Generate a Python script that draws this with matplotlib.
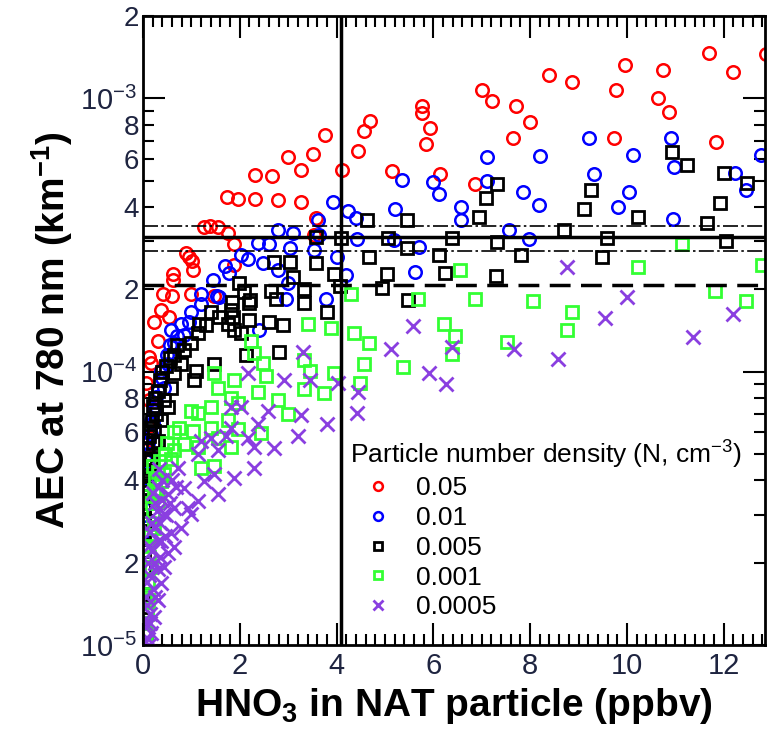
import numpy as np
import matplotlib
matplotlib.use('Agg')
import matplotlib.pyplot as plt
from matplotlib.ticker import FixedLocator, FuncFormatter

plt.rcParams['font.family'] = ['Liberation Sans', 'DejaVu Sans']
plt.rcParams['mathtext.fontset'] = 'custom'
plt.rcParams['mathtext.rm'] = 'Liberation Sans'
plt.rcParams['mathtext.bf'] = 'Liberation Sans:bold'

# =============================================================================
# data (x: ppbv, y: AEC in 1e-4 km^-1)
# =============================================================================

x_005 = [5.77, 5.77, 4.70, 4.56, 5.94, 5.84, 3.77, 4.45, 2.99, 3.51, 3.26, 4.12, 5.15, 6.14,
         2.31, 2.66, 1.73, 1.96, 2.31, 2.78, 3.26, 3.57, 1.26, 1.38, 1.55, 1.75, 1.88, 3.53,
         0.89, 0.95, 1.01, 1.03, 1.88, 0.62, 0.62, 0.41, 0.60, 0.99, 0.37, 0.54, 0.23, 1.46,
         0.31, 0.12, 0.16, 0.06, 0.12, 0.10, 0.02, 0.02,
         11.69, 12.87, 9.96, 10.74, 12.19, 8.39, 8.87, 9.77, 7.01, 7.22, 10.64, 10.87, 7.71,
         8.00, 7.65, 9.73, 11.84, 6.87]
y_005 = [9.36, 8.83, 8.25, 7.58, 7.78, 6.80, 7.33, 6.41, 6.09, 6.25, 5.46, 5.46, 5.41, 5.27,
         5.23, 5.19, 4.34, 4.27, 4.27, 4.24, 4.17, 3.64, 3.37, 3.40, 3.37, 3.23, 2.92, 3.16,
         2.71, 2.62, 2.55, 2.35, 2.45, 2.27, 2.16, 1.93, 1.90, 1.93, 1.68, 1.58, 1.52, 1.90,
         1.30, 1.13, 1.08, 0.913, 0.787, 0.635, 0.546, 0.515,
         14.7, 14.5, 13.3, 12.7, 12.5, 12.2, 11.5, 10.7, 10.7, 9.77, 10.0, 8.90, 9.36,
         8.18, 7.15, 7.15, 6.91, 4.85]

x_001 = [3.92, 4.23, 4.41, 5.20, 5.36, 6.00, 6.12, 3.61, 2.78, 3.09, 3.63, 4.43, 5.18, 2.37,
         2.60, 3.03, 3.53, 2.02, 2.16, 2.47, 2.78, 4.00, 1.69, 1.77, 1.44, 1.53, 1.57, 2.99,
         4.19, 5.63, 5.71, 1.20, 1.20, 0.99, 0.78, 0.95, 2.95, 3.79, 2.39,
         9.22, 10.91, 10.97, 7.11, 7.11, 8.21, 10.12, 12.78, 9.32, 12.23, 12.47, 7.86, 10.04,
         6.58, 6.58, 8.19, 9.81, 10.95, 7.57, 7.98,
         0.64, 0.52, 0.43, 0.23, 0.16, 0.12, 0.10, 0.06, 0.02, 0.85, 0.58, 0.37, 0.27, 0.16,
         0.06, 0.02,
         0.05, 0.08, 0.10, 0.20, 0.25, 0.30, 0.40, 0.50, 0.55, 0.70, 0.03, 0.01]
y_001 = [4.17, 3.86, 3.64, 3.93, 5.02, 4.93, 4.46, 3.58, 3.29, 3.23, 3.16, 3.05, 3.02, 2.95,
         2.92, 2.83, 2.78, 2.67, 2.58, 2.49, 2.35, 2.62, 2.43, 2.29, 2.16, 1.90, 1.87, 2.12,
         2.25, 2.31, 2.85, 1.93, 1.77, 1.65, 1.50, 1.52, 1.85, 1.85, 1.42,
         7.15, 7.15, 5.60, 6.09, 4.98, 6.14, 6.19, 6.19, 5.27, 5.32, 4.61, 4.53, 4.53,
         4.00, 3.58, 4.07, 4.00, 3.61, 3.29, 3.05,
         1.27, 1.07, 0.875, 0.721, 0.594, 0.502, 0.410, 0.376, 0.318, 1.36, 1.42, 1.01, 0.81, 0.66,
         0.47, 0.26,
         0.42, 0.52, 0.55, 0.65, 0.75, 0.85, 0.95, 1.15, 1.25, 1.35, 0.35, 0.30]

x_0005 = [4.62, 5.46, 3.57, 4.10, 5.07, 5.46, 4.66, 6.12, 2.70, 3.03, 3.57, 5.05, 6.25, 3.94,
          3.09, 1.98, 2.08, 2.21, 2.64, 2.74, 3.32, 3.32, 4.08, 4.93, 5.48, 1.84, 3.81, 1.40,
          1.57, 1.86, 2.19, 2.60, 2.89, 1.15, 1.30,
          10.93, 11.24, 12.00, 12.49, 7.32, 7.09, 9.26, 9.11, 6.95, 10.23, 11.92, 11.65, 8.70,
          6.39, 7.32, 9.59, 12.04, 7.81, 9.48, 7.30,
          1.81, 2.19, 1.75, 2.02, 1.88, 2.80, 2.12, 1.46, 1.13, 0.99, 0.85, 0.78, 1.09, 1.05,
          0.64, 0.58, 0.43, 0.52, 0.37, 0.23, 0.31, 0.16, 0.12, 0.10, 0.02, 0.01, 0.01, 0.01,
          0.04, 0.05, 0.03, 0.03, 0.02, 0.02, 0.27, 0.20,
          0.02, 0.03, 0.05, 0.07, 0.09, 0.12, 0.15, 0.18, 0.20, 0.25, 0.30, 0.35, 0.40, 0.47,
          0.55, 0.65, 0.70]
y_0005 = [3.58, 3.58, 3.10, 3.08, 3.08, 2.83, 2.62, 2.67, 2.51, 2.51, 2.49, 2.27, 2.29, 2.27,
          2.22, 2.11, 1.95, 1.83, 1.97, 1.84, 2.00, 1.78, 2.05, 2.02, 1.83, 1.80, 1.65, 1.65,
          1.58, 1.58, 1.54, 1.52, 1.48, 1.50, 1.48,
          6.35, 5.69, 5.32, 4.89, 4.85, 4.31, 4.61, 3.93, 3.67, 3.67, 4.13, 3.49, 3.29,
          3.08, 2.98, 3.08, 3.00, 2.67, 2.62, 2.24,
          1.68, 1.78, 1.50, 1.38, 1.42, 1.18, 1.15, 1.07, 1.38, 1.27, 1.20, 1.07, 1.01, 0.929,
          0.985, 0.875, 0.787, 0.740, 0.663, 0.609, 0.560, 0.485, 0.434, 0.376, 0.318, 0.256, 0.154, 0.124,
          0.45, 0.40, 0.35, 0.29, 0.22, 0.19, 0.70, 0.55,
          0.28, 0.33, 0.42, 0.48, 0.52, 0.58, 0.62, 0.66, 0.75, 0.80, 0.85, 0.93, 1.00, 1.05,
          1.12, 1.15, 1.25]

x_0001 = [3.40, 3.88, 4.35, 4.66, 4.56, 4.49, 3.94, 3.32, 3.73, 3.32, 3.46, 2.78, 2.99, 2.23,
          2.29, 2.47, 2.54, 1.88, 1.46, 1.55, 2.37, 1.81, 1.96, 1.40, 0.99, 1.13, 1.75, 1.96,
          2.43, 0.74, 1.03, 1.40, 1.55, 0.85, 1.13, 1.81, 0.64, 0.58, 1.46, 0.43, 1.20, 0.37,
          0.31, 0.23, 0.16, 0.10, 0.06,
          6.56, 5.69, 6.87, 8.06, 8.87, 8.76, 6.21, 6.45, 6.39, 7.53, 5.38, 10.23, 11.81, 12.47,
          12.80, 11.13, 4.29,
          0.20, 0.15, 0.12, 0.10, 0.08, 0.05, 0.28, 0.45, 0.25,
          0.03, 0.05, 0.07, 0.09, 0.13, 0.18, 0.22, 0.30, 0.35, 0.12, 0.20, 0.50, 0.65]
y_0001 = [1.50, 1.45, 1.38, 1.27, 1.07, 0.913, 0.985, 0.868, 0.834, 1.10, 1.01, 0.787, 0.703, 1.30,
          1.17, 1.08, 0.968, 0.929, 0.985, 0.875, 0.840, 0.799, 0.765, 0.740, 0.721, 0.709, 0.663, 0.619,
          0.598, 0.624, 0.609, 0.624, 0.574, 0.546, 0.529, 0.529, 0.515, 0.481, 0.453, 0.424, 0.446, 0.399,
          0.337, 0.269, 0.193, 0.146, 0.111,
          2.35, 1.85, 1.85, 1.81, 1.65, 1.42, 1.50, 1.35, 1.16, 1.28, 1.04, 2.41, 1.98, 1.81,
          2.45, 2.92, 1.93,
          0.30, 0.25, 0.21, 0.17, 0.13, 0.10, 0.36, 0.50, 0.40,
          0.12, 0.15, 0.19, 0.23, 0.28, 0.33, 0.37, 0.43, 0.47, 0.35, 0.45, 0.55, 0.60]

x_00005 = [8.76, 10.00, 9.55, 12.19, 11.36, 5.57, 5.13, 6.39, 7.67, 8.58, 5.92, 6.27,
           3.30, 3.46, 4.02, 4.45, 4.43, 3.81, 3.26, 3.20, 2.70, 2.91, 2.16, 2.58, 2.37, 2.02,
           1.81, 2.29, 1.81, 2.16, 1.71, 1.40, 1.55, 1.20, 1.13, 2.29, 1.88, 1.46, 1.55, 1.26,
           1.13, 0.99, 0.85, 0.72, 0.64, 0.58, 0.52, 0.43, 0.37, 0.31, 0.23, 0.16, 0.43, 0.64,
           0.78, 0.93, 0.52,
           0.10, 0.15, 0.20, 0.25, 0.30, 0.35, 0.12, 0.18, 0.22, 0.28, 0.40, 0.08, 0.14, 0.45, 0.35,
           0.05, 0.08, 0.12, 0.18, 0.25, 0.30, 0.20, 0.10, 0.15, 0.06, 0.25, 0.30, 0.38, 0.48,
           0.55, 0.60, 0.68, 0.33, 0.40, 0.12]
y_00005 = [2.41, 1.87, 1.57, 1.63, 1.34, 1.47, 1.21, 1.23, 1.21, 1.11, 0.993, 0.905,
           1.18, 0.929, 0.913, 0.840, 0.709, 0.646, 0.692, 0.584, 0.524, 0.929, 0.993, 0.721, 0.646, 0.740,
           0.740, 0.529, 0.624, 0.574, 0.584, 0.574, 0.515, 0.560, 0.502, 0.446, 0.410, 0.424, 0.358, 0.399,
           0.337, 0.302, 0.376, 0.446, 0.318, 0.256, 0.217, 0.193, 0.168, 0.146, 0.127, 0.111, 0.302, 0.228,
           0.269, 0.318, 0.358,
           0.105, 0.13, 0.16, 0.20, 0.24, 0.28, 0.18, 0.22, 0.27, 0.31, 0.34, 0.14, 0.12, 0.25, 0.21,
           0.12, 0.17, 0.23, 0.28, 0.33, 0.38, 0.36, 0.20, 0.26, 0.15, 0.15, 0.19, 0.24, 0.30,
           0.33, 0.40, 0.38, 0.44, 0.40, 0.10]

legend_labels = ['0.05', '0.01', '0.005', '0.001', '0.0005']
h_solid = 3.1e-4
h_dashdot = [3.4e-4, 2.77e-4]
h_dashed = 2.08e-4
v_line = 4.1

# =============================================================================
# plot
# =============================================================================

fig = plt.figure(figsize=(7.71, 7.31), dpi=100)
ax = fig.add_axes([0.1855, 0.1176, 0.8065, 0.8604])

ax.plot(x_005, np.array(y_005) * 1e-4, 'o', ms=9, mfc='none', mec='#ff0000', mew=1.8,
        label=legend_labels[0])
ax.plot(x_001, np.array(y_001) * 1e-4, 'o', ms=9, mfc='none', mec='#0000ff', mew=1.8,
        label=legend_labels[1])
ax.plot(x_0005, np.array(y_0005) * 1e-4, 's', ms=9, mfc='none', mec='black', mew=2,
        label=legend_labels[2])
ax.plot(x_0001, np.array(y_0001) * 1e-4, 's', ms=9, mfc='none', mec='#33ff33', mew=2,
        label=legend_labels[3])
ax.plot(x_00005, np.array(y_00005) * 1e-4, 'x', ms=9.5, mec='#8a3fe0', mew=2,
        label=legend_labels[4])

ax.axhline(h_solid, color='black', lw=2.5)
for h in h_dashdot:
    ax.axhline(h, color='black', lw=1.2, dashes=(9, 2, 1.5, 2))
ax.axhline(h_dashed, color='black', lw=2.5, dashes=(6, 3))
ax.axvline(v_line, color='black', lw=2.5)

ax.set_yscale('log')
ax.set_xlim(0, 12.85)
ax.set_ylim(1e-5, 2e-3)

# y ticks: decades labelled as powers of ten, 2/4/6/8 labelled as plain digits
ax.yaxis.set_major_locator(FixedLocator([1e-5, 1e-4, 1e-3]))
ax.yaxis.set_major_formatter(FuncFormatter(lambda v, p: r'$10^{%d}$' % round(np.log10(v))))
minor_y = [m * 10.0 ** e for e in (-5, -4, -3) for m in range(2, 10)]
ax.yaxis.set_minor_locator(FixedLocator([v for v in minor_y if v <= 2e-3]))

def minor_label(v, p):
    m = int(round(v / 10 ** np.floor(np.log10(v) + 1e-9)))
    return str(m) if m in (2, 4, 6, 8) else ''

ax.yaxis.set_minor_formatter(FuncFormatter(minor_label))

ax.set_xticks(np.arange(0, 13, 2))
ax.set_xticks(np.arange(0, 12.9, 0.2), minor=True)

ax.tick_params(which='both', direction='in', top=True, right=True, labelsize=21,
               labelcolor='#1e2440', width=1.5)
ax.tick_params(which='major', length=16)
ax.tick_params(which='minor', length=8)
ax.tick_params(axis='y', which='major', pad=4)
ax.tick_params(axis='y', which='minor', labelsize=20, pad=3)
ax.tick_params(axis='x', which='major', pad=5)

for s in ax.spines.values():
    s.set_linewidth(2)

ax.set_xlabel(r'HNO$_\mathbf{3}$ in NAT particle (ppbv)', fontsize=28, fontweight='bold',
              labelpad=4)
ax.set_ylabel(r'AEC at 780 nm (km$^{\mathbf{-1}}$)', fontsize=28, fontweight='bold',
              labelpad=4)

leg = ax.legend(title=r'Particle number density (N, cm$^{-3}$)', loc='upper left',
                bbox_to_anchor=(0.333, 0.33), frameon=False, fontsize=19, title_fontsize=19,
                markerscale=0.7, handlelength=2.1, handletextpad=0.4, labelspacing=0.22,
                borderaxespad=0, borderpad=0)
leg._legend_box.align = 'left'

fig.savefig('out.png', dpi=100)
